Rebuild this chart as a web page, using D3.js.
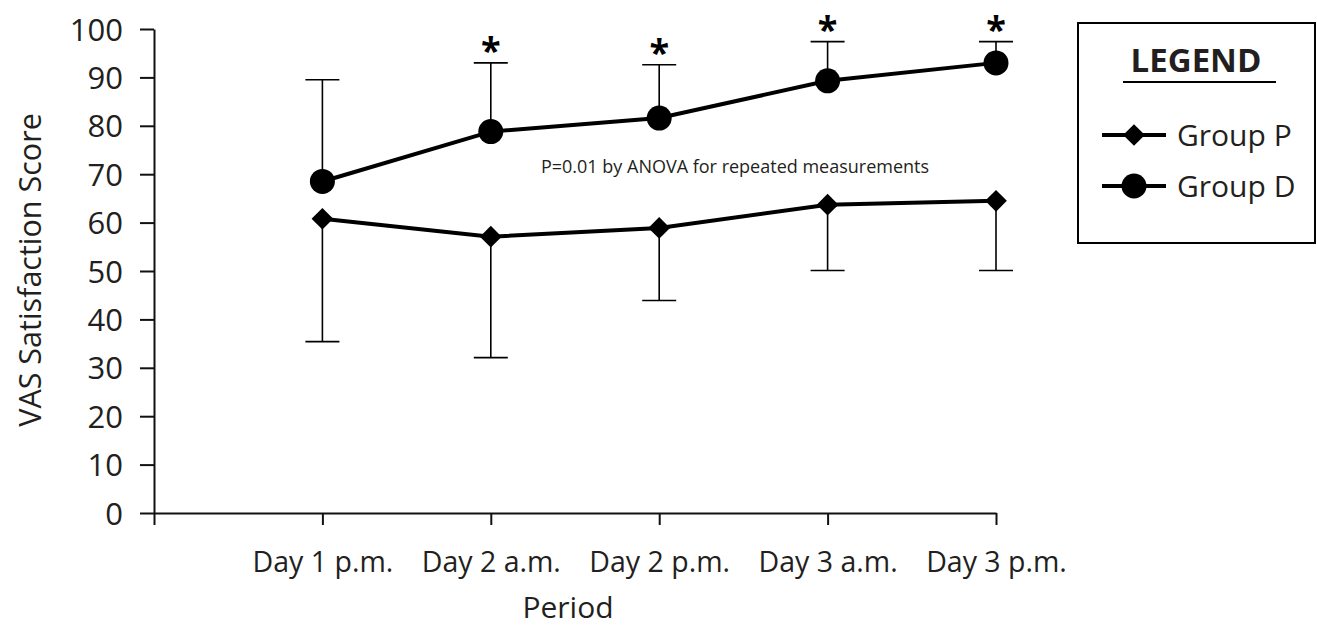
<!DOCTYPE html>
<html>
<head>
<meta charset="utf-8">
<script src="https://cdn.jsdelivr.net/npm/d3@7"></script>
<style>
  body { margin: 0; background: #fff; }
  svg { display: block; font-family: "Open Sans", sans-serif; }
  .axis path, .axis line { stroke: #111; stroke-width: 2; }
  .axis text { fill: #231f20; font-family: "Open Sans", sans-serif; }
</style>
</head>
<body>
<svg width="1317" height="630"></svg>
<script>
// dados
const periodos = ["Day 1 p.m.", "Day 2 a.m.", "Day 2 p.m.", "Day 3 a.m.", "Day 3 p.m."];
const grupo_p = [60.8, 57.1, 58.9, 63.7, 64.5];
const grupo_p_inf = [35.4, 32.1, 43.9, 50.1, 50.1];   // barra de erro p/ baixo
const grupo_d = [68.5, 78.8, 81.6, 89.3, 93.0];
const grupo_d_sup = [89.5, 93.0, 92.6, 97.4, 97.4];   // barra de erro p/ cima
const significativo = [false, true, true, true, true];
const ticks_y = [0, 10, 20, 30, 40, 50, 60, 70, 80, 90, 100];

const svg = d3.select("svg");
const cor = "#000";
const cor_texto = "#231f20";

const margin = { top: 29, left: 154, right: 996, bottom: 513 };

const x = d3.scalePoint()
    .domain([""].concat(periodos))
    .range([margin.left, margin.right]);

const y = d3.scaleLinear()
    .domain([0, 100])
    .range([margin.bottom, margin.top]);

// eixo y
const eixo_y = d3.axisLeft(y).tickValues(ticks_y).tickSize(14).tickPadding(17).tickSizeOuter(0);
svg.append("g")
    .attr("class", "axis y-axis")
    .attr("transform", "translate(" + margin.left + ",0)")
    .call(eixo_y)
    .call(g => g.selectAll("text").style("font-size", "31px").attr("dy", "0.36em"));

// eixo x
const eixo_x = d3.axisBottom(x).tickSize(12).tickPadding(27).tickSizeOuter(0);
svg.append("g")
    .attr("class", "axis x-axis")
    .attr("transform", "translate(0," + margin.bottom + ")")
    .call(eixo_x)
    .call(g => g.selectAll("text").style("font-size", "28.5px"));

// titulos dos eixos
svg.append("text")
    .attr("transform", "translate(41," + 270 + ") rotate(-90)")
    .attr("text-anchor", "middle")
    .attr("fill", cor_texto)
    .style("font-size", "30.5px")
    .text("VAS Satisfaction Score");

svg.append("text")
    .attr("x", 568).attr("y", 618)
    .attr("text-anchor", "middle")
    .attr("fill", cor_texto)
    .style("font-size", "30px")
    .text("Period");

// barras de erro
const cap = 17;
function barras(valores, extremos) {
    const g = svg.append("g");
    valores.forEach((v, i) => {
        const cx = x(periodos[i]);
        g.append("line")
            .attr("x1", cx).attr("x2", cx)
            .attr("y1", y(v)).attr("y2", y(extremos[i]))
            .attr("stroke", cor).attr("stroke-width", 1.6);
        g.append("line")
            .attr("x1", cx - cap).attr("x2", cx + cap)
            .attr("y1", y(extremos[i])).attr("y2", y(extremos[i]))
            .attr("stroke", cor).attr("stroke-width", 1.6);
    });
}
barras(grupo_p, grupo_p_inf);
barras(grupo_d, grupo_d_sup);

// linhas
const linha = d3.line()
    .x((d, i) => x(periodos[i]))
    .y(d => y(d));

svg.append("path").datum(grupo_p)
    .attr("d", linha).attr("fill", "none")
    .attr("stroke", cor).attr("stroke-width", 4);
svg.append("path").datum(grupo_d)
    .attr("d", linha).attr("fill", "none")
    .attr("stroke", cor).attr("stroke-width", 4);

// marcadores
const diamante = d3.symbol().type(d3.symbolDiamond2).size(300);
svg.append("g").selectAll("path")
    .data(grupo_p)
    .join("path")
    .attr("d", diamante)
    .attr("transform", (d, i) => "translate(" + x(periodos[i]) + "," + y(d) + ")")
    .attr("fill", cor);

svg.append("g").selectAll("circle")
    .data(grupo_d)
    .join("circle")
    .attr("cx", (d, i) => x(periodos[i]))
    .attr("cy", d => y(d))
    .attr("r", 12.5)
    .attr("fill", cor);

// asteriscos
svg.append("g").selectAll("text")
    .data(periodos.filter((p, i) => significativo[i]))
    .join("text")
    .attr("x", d => x(d))
    .attr("y", d => y(grupo_d_sup[periodos.indexOf(d)]))
    .attr("text-anchor", "middle")
    .attr("fill", cor)
    .style("font-size", "36px")
    .style("font-weight", "bold")
    .text("*");

// anotacao
svg.append("text")
    .attr("x", 735).attr("y", 173)
    .attr("text-anchor", "middle")
    .attr("fill", cor_texto)
    .style("font-size", "18px")
    .text("P=0.01 by ANOVA for repeated measurements");

// legenda
const leg = svg.append("g");
leg.append("rect")
    .attr("x", 1078).attr("y", 23)
    .attr("width", 237).attr("height", 220)
    .attr("fill", "none").attr("stroke", cor).attr("stroke-width", 2);
leg.append("text")
    .attr("x", 1196).attr("y", 72)
    .attr("text-anchor", "middle")
    .attr("fill", cor_texto)
    .style("font-size", "33px").style("font-weight", "bold")
    .text("LEGEND");
leg.append("line")
    .attr("x1", 1123).attr("x2", 1276)
    .attr("y1", 82).attr("y2", 82)
    .attr("stroke", cor).attr("stroke-width", 2);

const itens = [
    { nome: "Group P", yy: 135, tipo: "diamante" },
    { nome: "Group D", yy: 186, tipo: "circulo" }
];
itens.forEach(it => {
    leg.append("line")
        .attr("x1", 1102).attr("x2", 1166)
        .attr("y1", it.yy).attr("y2", it.yy)
        .attr("stroke", cor).attr("stroke-width", 4);
    if (it.tipo === "diamante") {
        leg.append("path")
            .attr("d", diamante)
            .attr("transform", "translate(1134," + it.yy + ")")
            .attr("fill", cor);
    } else {
        leg.append("circle")
            .attr("cx", 1134).attr("cy", it.yy).attr("r", 12.5)
            .attr("fill", cor);
    }
    leg.append("text")
        .attr("x", 1177).attr("y", it.yy)
        .attr("dy", "0.36em")
        .attr("fill", cor_texto)
        .style("font-size", "30px")
        .text(it.nome);
});
</script>
</body>
</html>
